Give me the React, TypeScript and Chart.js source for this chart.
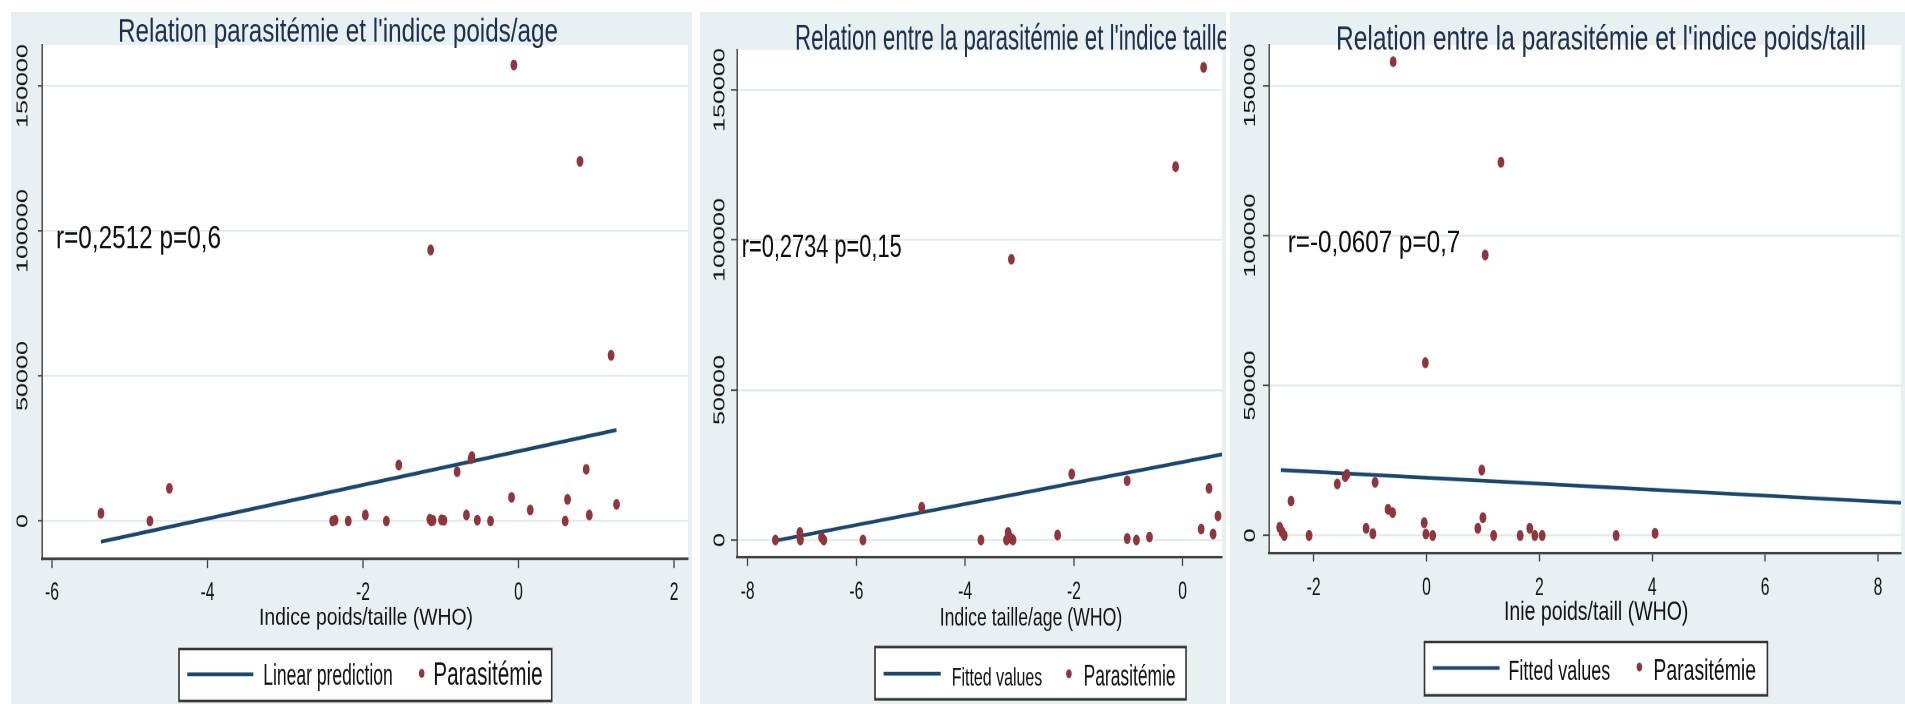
import React, { useEffect, useRef } from "react";
import { Chart, registerables } from "chart.js";

Chart.register(...registerables);

// ---------------- data ----------------
const yTicks = [0, 50000, 100000, 150000];
const yTickLabels = ["0", "50000", "100000", "150000"];
const p1XTicks = [-6, -4, -2, 0, 2];
const p2XTicks = [-8, -6, -4, -2, 0];
const p3XTicks = [-2, 0, 2, 4, 6, 8];

const panelTitles = [
  "Relation parasitémie et l'indice poids/age",
  "Relation entre la parasitémie et l'indice taille",
  "Relation entre la parasitémie et l'indice poids/taill",
];
const axisTitles = ["Indice poids/taille (WHO)", "Indice taille/age (WHO)", "Inie poids/taill (WHO)"];
const statTexts = ["r=0,2512 p=0,6", "r=0,2734 p=0,15", "r=-0,0607 p=0,7"];
const fitLabels = ["Linear prediction", "Fitted values", "Fitted values"];
const scatterLabel = "Parasitémie";

// Panel 1 : indice poids/taille
const p1Indice = [-5.37, -4.74, -4.49, -2.39, -2.36, -2.19, -1.97, -1.7, -1.54, -1.14, -1.13, -1.12, -1.1, -0.99, -0.96, -0.79, -0.67, -0.61, -0.6, -0.53, -0.36, -0.09, -0.06, 0.15, 0.6, 0.63, 0.79, 0.87, 0.91, 1.19, 1.26];
const p1Parasit = [2650, 0, 11270, 0, 300, 0, 2070, 0, 19310, 600, 93450, 0, 200, 400, 200, 17000, 2070, 21500, 22200, 300, 0, 8170, 157240, 3790, 0, 7470, 124030, 17820, 2070, 57130, 5750];
const p1FitX = [-5.37, 1.26];
const p1FitY = [-7140, 31380];

// Panel 2 : indice taille/age
const p2Indice = [-7.49, -7.04, -7.04, -7.03, -6.64, -6.6, -5.88, -4.8, -3.71, -3.24, -3.21, -3.18, -3.14, -3.12, -3.15, -2.3, -2.04, -1.02, -1.02, -0.85, -0.61, -0.13, 0.34, 0.385, 0.485, 0.56, 0.65];
const p2Parasit = [0, 2500, 1000, 0, 900, 0, 0, 10900, 0, 0, 2500, 1000, 300, 0, 93570, 1670, 22000, 19770, 500, 0, 1000, 124440, 3670, 157560, 17220, 2000, 8000];
const p2FitX = [-7.49, 0.9];
const p2FitY = [-196, 29140];

// Panel 3 : indice poids/taille
const p3Indice = [-2.6, -2.56, -2.52, -2.4, -2.08, -1.58, -1.44, -1.41, -1.07, -0.95, -0.91, -0.68, -0.6, -0.59, -0.04, -0.02, -0.01, 0.11, 0.91, 0.98, 1.0, 1.04, 1.19, 1.32, 1.66, 1.83, 1.92, 2.05, 3.36, 4.05];
const p3Parasit = [2730, 1200, 0, 11500, 0, 17170, 19600, 20400, 2400, 600, 17730, 8730, 7600, 157930, 4270, 57600, 500, 0, 2400, 21830, 5930, 93500, 0, 124400, 0, 2400, 0, 0, 0, 730];
const p3FitX = [-2.58, 9.0];
const p3FitY = [21830, 10340];

const xTickSets = [p1XTicks, p2XTicks, p3XTicks];
const scatterX = [p1Indice, p2Indice, p3Indice];
const scatterY = [p1Parasit, p2Parasit, p3Parasit];
const fitX = [p1FitX, p2FitX, p3FitX];
const fitY = [p1FitY, p2FitY, p3FitY];

// ---------------- style / layout ----------------
const FONT = "'Liberation Sans', Arial, Helvetica, sans-serif";
const BG = "#E8F0F2";
const GRID = "#E1EBEE";
const AXIS = "#404040";
const NAVY = "#1A476F";
const MAROON = "#90353B";
const TITLE_COLOR = "#1F2D4E";
const TEXT = "#141414";
const TOP = 12;
const FULL_H = 692;
const CH = 432;
const S = FULL_H / CH; // vertical stretch of the original figure

type T4 = [number, number, number, number];
const layouts = [
  {
    left: 11, right: 692, plotL: 42, plotR: 690, plotT: 45, plotB: 559, yTick: 4, xTick: 9,
    xMin: -6.128, xMax: 2.179, yMin: -13103, yMax: 164138, yLabX: 27.5, xLabY: 600,
    title: [118, 42, 440, 20.3] as T4, stat: [56, 248.3, 165, 20.3] as T4, axis: [259, 624.7, 214, 14.6] as T4,
    box: [179, 649, 551.7, 701] as T4, lineS: [187.3, 253.3, 674.3], t1: [263.3, 685, 129.4, 18.9] as T4,
    dot: [421.7, 673.3], t2: [433.3, 685, 109.4, 20.3] as T4,
  },
  {
    left: 700, right: 1226, plotL: 737, plotR: 1224, plotT: 50, plotB: 557, yTick: 6, xTick: 9,
    xMin: -8.196, xMax: 0.7234, yMin: -5667, yMax: 163333, yLabX: 724.4, xLabY: 598.7,
    title: [795, 50, 434, 21.8] as T4, stat: [741.7, 256.7, 160, 20.3] as T4, axis: [939.7, 625.3, 182.5, 16] as T4,
    box: [875, 647, 1186, 699.3] as T4, lineS: [883.6, 940.7, 673.7], t1: [951.7, 685.3, 90.6, 16] as T4,
    dot: [1068.9, 673.7], t2: [1083.6, 685.3, 92, 18.8] as T4,
  },
  {
    left: 1230, right: 1905, plotL: 1269, plotR: 1905, plotT: 45, plotB: 553, yTick: 6, xTick: 8.5,
    xMin: -2.79, xMax: 8.407, yMin: -5833, yMax: 163500, yLabX: 1255, xLabY: 595,
    title: [1336, 49.3, 530, 21.2] as T4, stat: [1287.7, 252.3, 172.6, 19.4] as T4, axis: [1504, 620.3, 184.4, 16.6] as T4,
    box: [1424.5, 642, 1767.4, 695.3] as T4, lineS: [1432.8, 1499.6, 668], t1: [1508.4, 680.3, 101.8, 17.4] as T4,
    dot: [1639.4, 667], t2: [1653.4, 680.3, 102.6, 18.8] as T4,
  },
];

function Panel({ idx }: { idx: number }) {
  const ref = useRef<HTMLCanvasElement | null>(null);
  const L = layouts[idx];
  const W = L.right - L.left;

  useEffect(() => {
    const canvas = ref.current;
    if (!canvas) return;
    const toC = (y: number) => (y - TOP) / S;
    const xTickC = L.xTick / S;

    const fitText = (ctx: CanvasRenderingContext2D, text: string, spec: T4, color: string) => {
      const [x, base, w, size] = spec;
      ctx.save();
      ctx.font = `${size}px ${FONT}`;
      const m = ctx.measureText(text).width;
      const k = m > 0 ? w / m : 1;
      ctx.translate(x - L.left, toC(base));
      ctx.scale(k, 1);
      ctx.fillStyle = color;
      ctx.textAlign = "left";
      ctx.textBaseline = "alphabetic";
      ctx.fillText(text, 0, 0);
      ctx.restore();
    };

    const decor = {
      id: "stataDecor" + idx,
      beforeDraw(chart: any) {
        const ctx = chart.ctx;
        const a = chart.chartArea;
        ctx.save();
        ctx.fillStyle = BG;
        ctx.fillRect(0, 0, chart.width, chart.height);
        ctx.fillStyle = "#ffffff";
        ctx.fillRect(a.left, a.top, a.right - a.left, a.bottom - a.top);
        ctx.restore();
      },
      afterDraw(chart: any) {
        const ctx = chart.ctx;
        const xs = chart.scales.x;
        const ys = chart.scales.y;
        ctx.save();
        ctx.fillStyle = TEXT;
        ctx.font = `15.7px ${FONT}`;
        ctx.textAlign = "center";
        ctx.textBaseline = "alphabetic";
        xTickSets[idx].forEach((v) => {
          ctx.fillText(String(v), xs.getPixelForValue(v), toC(L.xLabY));
        });
        yTicks.forEach((v, i) => {
          ctx.save();
          ctx.translate(L.yLabX - L.left, ys.getPixelForValue(v));
          ctx.rotate(-Math.PI / 2);
          ctx.fillText(yTickLabels[i], 0, 0);
          ctx.restore();
        });
        ctx.restore();

        fitText(ctx, panelTitles[idx], L.title, TITLE_COLOR);
        fitText(ctx, statTexts[idx], L.stat, "#0d0d0d");
        fitText(ctx, axisTitles[idx], L.axis, TEXT);

        // legend
        const dsFit = chart.data.datasets[1];
        const dsSc = chart.data.datasets[0];
        const [bx1, by1, bx2, by2] = L.box;
        ctx.save();
        ctx.fillStyle = "#ffffff";
        ctx.fillRect(bx1 - L.left, toC(by1), bx2 - bx1, toC(by2) - toC(by1));
        ctx.strokeStyle = "#333333";
        ctx.lineWidth = 1.6;
        ctx.strokeRect(bx1 - L.left, toC(by1), bx2 - bx1, toC(by2) - toC(by1));
        ctx.strokeStyle = dsFit.borderColor;
        ctx.lineWidth = dsFit.borderWidth;
        ctx.beginPath();
        ctx.moveTo(L.lineS[0] - L.left, toC(L.lineS[2]));
        ctx.lineTo(L.lineS[1] - L.left, toC(L.lineS[2]));
        ctx.stroke();
        ctx.fillStyle = dsSc.backgroundColor;
        ctx.beginPath();
        ctx.arc(L.dot[0] - L.left, toC(L.dot[1]), 2.8, 0, Math.PI * 2);
        ctx.fill();
        ctx.restore();
        fitText(ctx, dsFit.label, L.t1, "#111111");
        fitText(ctx, dsSc.label, L.t2, "#111111");
      },
    };

    const chart = new Chart(canvas, {
      type: "scatter",
      data: {
        datasets: [
          {
            label: scatterLabel,
            data: scatterX[idx].map((x, i) => ({ x, y: scatterY[idx][i] })),
            backgroundColor: MAROON,
            borderColor: MAROON,
            borderWidth: 0,
            pointRadius: 3.4,
            order: 0,
          },
          {
            label: fitLabels[idx],
            data: fitX[idx].map((x, i) => ({ x, y: fitY[idx][i] })),
            showLine: true,
            borderColor: NAVY,
            backgroundColor: NAVY,
            borderWidth: 2.3,
            pointRadius: 0,
            order: 1,
          },
        ],
      },
      options: {
        animation: false,
        responsive: false,
        devicePixelRatio: 2,
        events: [],
        layout: {
          padding: {
            left: L.plotL - L.left - L.yTick,
            right: L.right - L.plotR,
            top: toC(L.plotT),
            bottom: CH - toC(L.plotB) - xTickC,
          },
        },
        plugins: {
          legend: { display: false },
          title: { display: false },
          tooltip: { enabled: false },
        },
        scales: {
          x: {
            type: "linear",
            position: "bottom",
            min: L.xMin,
            max: L.xMax,
            afterBuildTicks: (s: any) => {
              s.ticks = xTickSets[idx].map((v) => ({ value: v }));
            },
            afterFit: (s: any) => {
              s.height = xTickC;
            },
            ticks: { display: false },
            grid: {
              drawOnChartArea: false,
              drawTicks: true,
              tickLength: xTickC,
              tickColor: AXIS,
              tickWidth: 1.3,
            },
            border: { display: true, color: AXIS, width: 1.6 },
          },
          y: {
            type: "linear",
            position: "left",
            min: L.yMin,
            max: L.yMax,
            afterBuildTicks: (s: any) => {
              s.ticks = yTicks.map((v) => ({ value: v }));
            },
            afterFit: (s: any) => {
              s.width = L.yTick;
            },
            ticks: { display: false },
            grid: {
              color: GRID,
              lineWidth: 1.2,
              drawTicks: true,
              tickLength: L.yTick,
              tickColor: AXIS,
              tickWidth: 1,
            },
            border: { display: true, color: AXIS, width: 1.4 },
          },
        },
      } as any,
      plugins: [decor as any],
    });
    return () => chart.destroy();
  }, [idx]);

  return (
    <div
      style={{
        position: "absolute",
        left: L.left,
        top: TOP,
        width: W,
        height: FULL_H,
        overflow: "hidden",
      }}
    >
      <div style={{ width: W, height: CH, transform: `scaleY(${S})`, transformOrigin: "0 0" }}>
        <canvas ref={ref} width={W} height={CH} style={{ display: "block", width: W, height: CH }} />
      </div>
    </div>
  );
}

export default function App() {
  return (
    <div
      style={{
        position: "fixed",
        left: 0,
        top: 0,
        width: 1905,
        height: 704,
        background: "#ffffff",
        overflow: "hidden",
      }}
    >
      <Panel idx={0} />
      <Panel idx={1} />
      <Panel idx={2} />
    </div>
  );
}
